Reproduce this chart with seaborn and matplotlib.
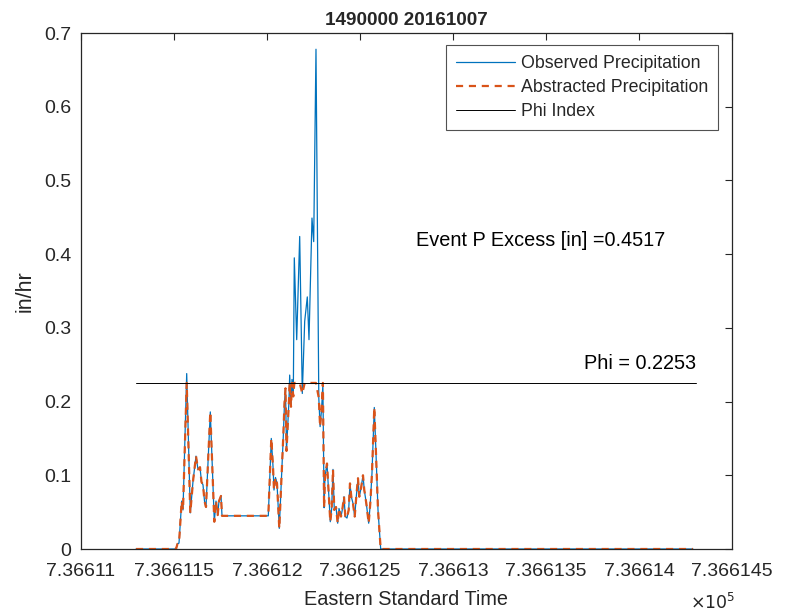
import numpy as np
import pandas as pd
import matplotlib
matplotlib.use("Agg")
import matplotlib.pyplot as plt
import seaborn as sns

# Event data (MATLAB datenum, in/hr)
time = [
    736611.2957, 736611.5108, 736611.5188, 736611.5269, 736611.5414, 736611.5484,
    736611.5683, 736611.5876, 736611.6022, 736611.6183, 736611.6290, 736611.6398,
    736611.6478, 736611.6559, 736611.6640, 736611.6720, 736611.6952, 736611.7167,
    736611.7258, 736611.7349, 736611.7419, 736611.7527, 736611.7581, 736612.0070,
    736612.0231, 736612.0323, 736612.0376, 736612.0457, 736612.0538, 736612.0661,
    736612.0876, 736612.0941, 736612.0995, 736612.1048, 736612.1183, 736612.1220,
    736612.1290, 736612.1344, 736612.1414, 736612.1468, 736612.1597, 736612.1758,
    736612.1898, 736612.2027, 736612.2167, 736612.2258, 736612.2419, 736612.2511,
    736612.2634, 736612.2785, 736612.2855, 736612.2935, 736612.3005, 736612.3070,
    736612.3118, 736612.3226, 736612.3317, 736612.3403, 736612.3478, 736612.3548,
    736612.3618, 736612.3710, 736612.3801, 736612.3871, 736612.3978, 736612.4048,
    736612.4140, 736612.4210, 736612.4301, 736612.4392, 736612.4462, 736612.4532,
    736612.4624, 736612.4715, 736612.4801, 736612.4892, 736612.4962, 736612.5054,
    736612.5161, 736612.5231, 736612.5339, 736612.5468, 736612.5554, 736612.5645,
    736612.5769, 736612.5860, 736612.5968, 736612.6113, 736614.2903,
]
observed = [
    0.0, 0.0, 0.007, 0.008, 0.065, 0.053,
    0.238, 0.049, 0.092, 0.126, 0.108, 0.111,
    0.091, 0.087, 0.065, 0.057, 0.186, 0.037,
    0.065, 0.046, 0.065, 0.072, 0.045, 0.045,
    0.150, 0.112, 0.080, 0.097, 0.089, 0.028,
    0.153, 0.198, 0.218, 0.133, 0.202, 0.236,
    0.193, 0.230, 0.207, 0.395, 0.284, 0.424,
    0.211, 0.309, 0.342, 0.284, 0.449, 0.417,
    0.678, 0.205, 0.166, 0.190, 0.223, 0.056,
    0.098, 0.116, 0.076, 0.037, 0.055, 0.108,
    0.053, 0.057, 0.035, 0.055, 0.044, 0.053,
    0.071, 0.044, 0.042, 0.053, 0.089, 0.071,
    0.062, 0.044, 0.071, 0.096, 0.071, 0.082,
    0.100, 0.080, 0.062, 0.035, 0.062, 0.103,
    0.192, 0.130, 0.053, 0.0, 0.0,
]
abstracted = [
    0.0, 0.0, 0.007, 0.008, 0.065, 0.053,
    0.2253, 0.049, 0.092, 0.126, 0.108, 0.111,
    0.091, 0.087, 0.065, 0.057, 0.186, 0.037,
    0.065, 0.046, 0.065, 0.072, 0.045, 0.045,
    0.150, 0.112, 0.080, 0.097, 0.089, 0.028,
    0.153, 0.198, 0.218, 0.133, 0.202, 0.2253,
    0.193, 0.2253, 0.207, 0.2253, 0.2253, 0.2253,
    0.211, 0.2253, 0.2253, 0.2253, 0.2253, 0.2253,
    0.2253, 0.205, 0.166, 0.190, 0.2253, 0.056,
    0.098, 0.116, 0.076, 0.037, 0.055, 0.108,
    0.053, 0.057, 0.035, 0.055, 0.044, 0.053,
    0.071, 0.044, 0.042, 0.053, 0.089, 0.071,
    0.062, 0.044, 0.071, 0.096, 0.071, 0.082,
    0.100, 0.080, 0.062, 0.035, 0.062, 0.103,
    0.192, 0.130, 0.053, 0.0, 0.0,
]
phi = 0.2253
p_excess = 0.4517
phi_span = [736611.2957, 736614.3060]

xtick_vals = [736611.0, 736611.5, 736612.0, 736612.5, 736613.0, 736613.5, 736614.0, 736614.5]
xtick_labels = ["7.36611", "7.366115", "7.36612", "7.366125", "7.36613",
                "7.366135", "7.36614", "7.366145"]
ytick_vals = [0, 0.1, 0.2, 0.3, 0.4, 0.5, 0.6, 0.7]
ytick_labels = ["0", "0.1", "0.2", "0.3", "0.4", "0.5", "0.6", "0.7"]

df = pd.DataFrame({"time": time, "observed": observed, "abstracted": abstracted})
phi_df = pd.DataFrame({"time": phi_span, "phi": [phi, phi]})

sns.set_theme(style="white")
plt.rcParams["font.family"] = ["Liberation Sans", "DejaVu Sans"]

fig = plt.figure(figsize=(7.88, 6.15), dpi=100)
ax = fig.add_axes([0.1028, 0.1073, 0.8261, 0.839])

sns.lineplot(data=df, x="time", y="observed", ax=ax, color="#0072BD",
             linewidth=0.9, label="Observed Precipitation")
sns.lineplot(data=df, x="time", y="abstracted", ax=ax, color="#D95319",
             linewidth=1.6, linestyle=(0, (3.2, 2.6)), label="Abstracted Precipitation")
sns.lineplot(data=phi_df, x="time", y="phi", ax=ax, color="black",
             linewidth=0.7, label="Phi Index")

ax.set_xlim(736611.0, 736614.5)
ax.set_ylim(0, 0.7)
ax.set_xticks(xtick_vals)
ax.set_xticklabels(xtick_labels)
ax.set_yticks(ytick_vals)
ax.set_yticklabels(ytick_labels)
ax.tick_params(direction="in", length=5, width=0.8, top=True, right=True,
               labelsize=14, colors="#262626")
ax.tick_params(axis="x", pad=10)
ax.tick_params(axis="y", pad=7)
for s in ax.spines.values():
    s.set_color("#262626")
    s.set_linewidth(0.9)

ax.set_title("1490000 20161007", fontsize=13.6, fontweight="bold", pad=6)
ax.set_xlabel("Eastern Standard Time", fontsize=14.3, color="#262626", labelpad=7)
ax.set_ylabel("in/hr", fontsize=15.5, color="#262626", labelpad=6)
fig.text(0.933, 0.005, r"$\times 10^5$", ha="right", va="bottom", fontsize=12.5,
         color="#262626")

ax.text(736612.801, 0.418, "Event P Excess [in] =%.4f" % p_excess, fontsize=14.3,
        ha="left", va="center", color="black")
ax.text(phi_span[1], phi + 0.026, "Phi = %.4f" % phi, fontsize=14.3,
        ha="right", va="center", color="black")

leg = ax.legend(loc="upper right", bbox_to_anchor=(0.9785, 0.9767), fontsize=12.8,
                frameon=True, fancybox=False, edgecolor="#262626",
                handlelength=3.3, borderpad=0.55, labelspacing=0.4,
                handletextpad=0.35, borderaxespad=0)
leg.get_frame().set_linewidth(0.8)

fig.savefig("out.png", dpi=100)
